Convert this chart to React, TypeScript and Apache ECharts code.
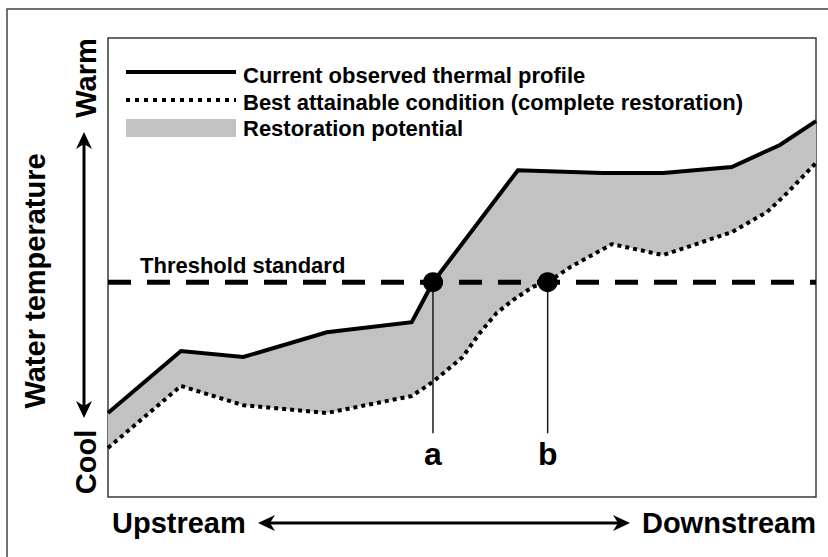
import React, { useEffect, useRef } from "react";
import * as echarts from "echarts";

// Distance along the stream (0 = upstream, 100 = downstream) and relative temperature (0 = cool, 100 = warm)
const currentDistance = [0, 10.3, 19.1, 30.9, 42.9, 45.9, 57.9, 69.9, 78.4, 88.1, 94.9, 100];
const currentTemp = [18.3, 31.8, 30.5, 35.9, 38.1, 46.8, 71.2, 70.6, 70.6, 71.9, 76.7, 81.9];

const bestDistance = [0, 10.3, 19.1, 30.9, 42.9, 45.9, 50.1, 52.5, 54.9, 57.2, 60.0, 62.1, 65.3, 71.2, 78.4, 88.1, 93.1, 95.9, 100];
const bestTemp = [10.7, 24.2, 20.0, 18.3, 22.0, 25.1, 30.5, 35.7, 40.1, 42.9, 45.8, 46.8, 50.1, 55.1, 52.7, 57.7, 62.1, 66.2, 72.8];

const thresholdValue = 46.8;
const crossingNames = ["a", "b"];
const crossingDistance = [45.9, 62.1];
const crossingLineBottom = 13.9;
const crossingLabelLevel = 9.4;

const legendLabels = [
  "Current observed thermal profile",
  "Best attainable condition (complete restoration)",
  "Restoration potential",
];
const thresholdLabel = "Threshold standard";
const yAxisTitle = "Water temperature";
const yAxisEnds = ["Warm", "Cool"];
const xAxisEnds = ["Upstream", "Downstream"];

const FONT = "Liberation Sans, Arial, Helvetica, sans-serif";
const GREY = "#c2c2c2";

export default function App() {
  const ref = useRef<HTMLDivElement>(null);

  useEffect(() => {
    if (!ref.current) return;
    const chart = echarts.init(ref.current, undefined, { renderer: "svg" });

    const currentData = currentDistance.map((d, i) => [d, currentTemp[i]]);
    const bestData = bestDistance.map((d, i) => [d, bestTemp[i]]);

    const txt = (text: string, x: number, y: number, size: number, extra: any = {}) => ({
      type: "text",
      x,
      y,
      z: 10,
      ...extra,
      style: {
        text,
        fontSize: size,
        fontWeight: "bold",
        fontFamily: FONT,
        fill: "#000",
        align: extra.align || "left",
        verticalAlign: "middle",
      },
    });

    const option: any = {
      animation: false,
      backgroundColor: "#fff",
      grid: {
        left: 108,
        top: 38,
        width: 708,
        height: 459,
        show: true,
        borderColor: "#3a3a3a",
        borderWidth: 1.5,
        backgroundColor: "transparent",
      },
      xAxis: { type: "value", min: 0, max: 100, show: false },
      yAxis: { type: "value", min: 0, max: 100, show: false },
      series: [
        {
          type: "custom",
          z: 1,
          silent: true,
          data: [[0, 0]],
          renderItem: (_params: any, api: any) => {
            const pts: number[][] = [];
            currentData.forEach((p) => pts.push(api.coord(p)));
            for (let i = bestData.length - 1; i >= 0; i--) pts.push(api.coord(bestData[i]));
            return { type: "polygon", shape: { points: pts }, style: { fill: GREY } };
          },
        },
        {
          type: "line",
          name: legendLabels[0],
          data: currentData,
          symbol: "none",
          z: 3,
          lineStyle: { color: "#000", width: 4, join: "miter" },
        },
        {
          type: "line",
          name: legendLabels[1],
          data: bestData,
          symbol: "none",
          z: 3,
          lineStyle: { color: "#000", width: 4, type: [4, 4], cap: "butt" },
        },
        {
          type: "line",
          name: thresholdLabel,
          data: [
            [0, thresholdValue],
            [100, thresholdValue],
          ],
          symbol: "none",
          z: 4,
          lineStyle: { color: "#000", width: 5, type: [23, 16], cap: "butt" },
        },
        ...crossingDistance.map((d) => ({
          type: "line",
          data: [
            [d, thresholdValue],
            [d, crossingLineBottom],
          ],
          symbol: "none",
          z: 4,
          lineStyle: { color: "#1a1a1a", width: 1.5 },
        })),
        {
          type: "scatter",
          data: crossingDistance.map((d) => [d, thresholdValue]),
          symbol: "circle",
          symbolSize: 20,
          z: 6,
          itemStyle: { color: "#000", opacity: 1 },
        },
        {
          type: "scatter",
          data: crossingDistance.map((d, i) => ({ value: [d, crossingLabelLevel], name: crossingNames[i] })),
          symbolSize: 1,
          z: 6,
          itemStyle: { color: "rgba(0,0,0,0)", opacity: 1 },
          label: {
            show: true,
            position: "inside",
            formatter: "{b}",
            fontSize: 32,
            fontWeight: "bold",
            fontFamily: FONT,
            color: "#000",
            opacity: 1,
          },
        },
      ],
      graphic: [
        // outer frame
        {
          type: "rect",
          z: 0,
          shape: { x: 7, y: 9, width: 900, height: 600 },
          style: { fill: "none", stroke: "#444", lineWidth: 1.5 },
        },
        // legend
        { type: "line", z: 10, shape: { x1: 126, y1: 72, x2: 236, y2: 72 }, style: { stroke: "#000", lineWidth: 4 } },
        {
          type: "line",
          z: 10,
          shape: { x1: 126, y1: 100, x2: 236, y2: 100 },
          style: { stroke: "#000", lineWidth: 4, lineDash: [4, 5] },
        },
        { type: "rect", z: 10, shape: { x: 126, y: 119, width: 110, height: 18 }, style: { fill: GREY } },
        txt(legendLabels[0], 243, 75, 22),
        txt(legendLabels[1], 243, 102, 22),
        txt(legendLabels[2], 243, 128, 22),
        txt(thresholdLabel, 140, 265, 22),
        // y axis titles
        txt(yAxisTitle, 35, 281, 29, { rotation: Math.PI / 2, align: "center" }),
        txt(yAxisEnds[0], 86, 78, 29, { rotation: Math.PI / 2, align: "center" }),
        txt(yAxisEnds[1], 86, 462, 29, { rotation: Math.PI / 2, align: "center" }),
        // vertical arrow
        { type: "line", z: 10, shape: { x1: 84, y1: 140, x2: 84, y2: 410 }, style: { stroke: "#000", lineWidth: 3 } },
        {
          type: "polygon",
          z: 10,
          shape: { points: [[84, 132], [76, 149], [84, 144], [92, 149]] },
          style: { fill: "#000" },
        },
        {
          type: "polygon",
          z: 10,
          shape: { points: [[84, 418], [76, 401], [84, 406], [92, 401]] },
          style: { fill: "#000" },
        },
        // x axis ends
        txt(xAxisEnds[0], 112, 523, 29),
        txt(xAxisEnds[1], 816, 523, 29, { align: "right" }),
        { type: "line", z: 10, shape: { x1: 266, y1: 523, x2: 622, y2: 523 }, style: { stroke: "#000", lineWidth: 3 } },
        {
          type: "polygon",
          z: 10,
          shape: { points: [[258, 523], [275, 515], [270, 523], [275, 531]] },
          style: { fill: "#000" },
        },
        {
          type: "polygon",
          z: 10,
          shape: { points: [[630, 523], [613, 515], [618, 523], [613, 531]] },
          style: { fill: "#000" },
        },
      ],
    };

    chart.setOption(option);
    return () => chart.dispose();
  }, []);

  return (
    <div
      ref={ref}
      style={{ position: "fixed", left: 0, top: 0, width: 828, height: 557, background: "#fff" }}
    />
  );
}
